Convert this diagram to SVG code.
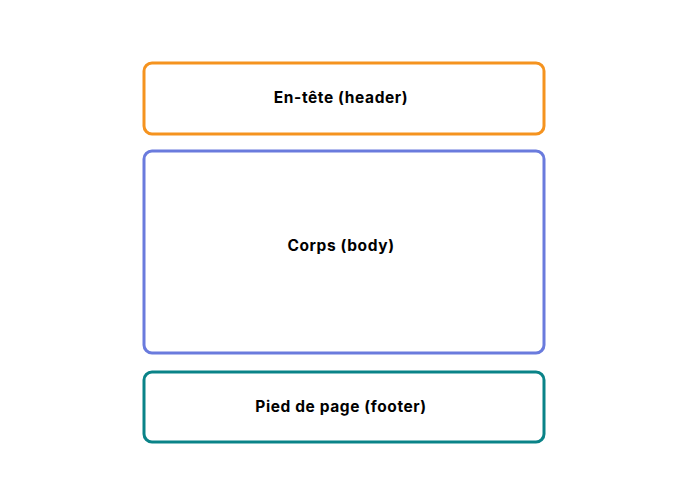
<svg xmlns="http://www.w3.org/2000/svg" width="695" height="504" viewBox="0 0 695 504">
<style>
.box{fill:#fff;stroke-width:3}
.lbl{font-family:Inter,"Open Sans","Liberation Sans",sans-serif;font-weight:700;font-size:15.5px;letter-spacing:0.6px;fill:#000;text-anchor:middle;dominant-baseline:central}
</style>
<rect width="695" height="504" fill="#fff"/>
<g id="header"><rect class="box" x="144" y="63" width="400" height="71" rx="8" stroke="#F5931F"/><text class="lbl" x="341" y="97">En-tête (header)</text></g>
<g id="body"><rect class="box" x="144" y="151" width="400" height="202" rx="8" stroke="#6A7BDD"/><text class="lbl" x="341" y="245.500">Corps (body)</text></g>
<g id="footer"><rect class="box" x="144" y="372" width="400" height="70" rx="8" stroke="#0A8388"/><text class="lbl" x="341" y="406">Pied de page (footer)</text></g>
<g id="connectors"/>
</svg>
